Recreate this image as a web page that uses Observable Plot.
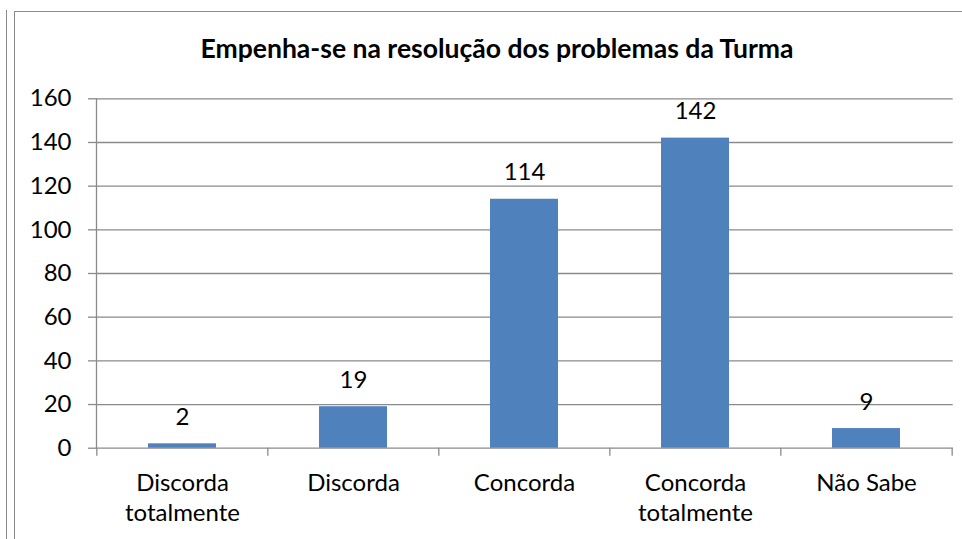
<!DOCTYPE html>
<html>
<head>
<meta charset="utf-8">
<script src="https://cdn.jsdelivr.net/npm/d3@7"></script>
<script src="https://cdn.jsdelivr.net/npm/@observablehq/plot@0.6"></script>
<style>
  html, body { margin: 0; padding: 0; background: #fff; overflow: hidden; }
  #wrap { position: relative; width: 962px; height: 539px; font-family: Lato, sans-serif; color: #000; }
  .vline { position: absolute; width: 1px; background: #8a8a8a; }
  .hline { position: absolute; height: 1px; background: #8a8a8a; }
  #title { position: absolute; left: 0; width: 994px; text-align: center; font-weight: bold; line-height: 1; white-space: nowrap; }
  #chart { position: absolute; left: 0; top: 0; }
</style>
</head>
<body>
<div id="wrap">
  <div class="vline" style="left:6px; top:10px; height:529px;"></div>
  <div class="vline" style="left:14px; top:11px; height:528px;"></div>
  <div class="hline" style="left:14px; top:11px; width:948px;"></div>
  <div id="title"></div>
  <div id="chart"></div>
</div>
<script>
const titleText = "Empenha-se na resolução dos problemas da Turma";
const categories = ["Discorda\ntotalmente", "Discorda", "Concorda", "Concorda\ntotalmente", "Não Sabe"];
const values = [2, 19, 114, 142, 9];
const yTicks = [0, 20, 40, 60, 80, 100, 120, 140, 160];

const data = categories.map((c, i) => ({category: c, value: values[i]}));

const W = 962, H = 539;
const mLeft = 96, mRight = 9.3, mTop = 98.3, mBottom = 91.3;
const step = (W - mLeft - mRight) / categories.length;
const fs = 24;
const lh = 1.27;
const grid = "#8a8a8a";

// Title sized to match the reference width
const ctx = document.createElement("canvas").getContext("2d");
ctx.font = "bold 100px Lato";
const tw = ctx.measureText(titleText).width;
const tfs = 100 * 594 / tw;
const titleEl = document.getElementById("title");
titleEl.textContent = titleText;
titleEl.style.fontSize = tfs + "px";
titleEl.style.top = (58.3 - 0.887 * tfs) + "px";

const chart = Plot.plot({
  width: W,
  height: H,
  marginLeft: mLeft,
  marginRight: mRight,
  marginTop: mTop,
  marginBottom: mBottom,
  style: {fontFamily: "Lato, sans-serif", fontSize: fs + "px", color: "#000", background: "transparent", overflow: "visible"},
  x: {domain: categories, paddingInner: 0.6, paddingOuter: 0.3, label: null},
  y: {domain: [0, 160], label: null},
  marks: [
    Plot.gridY(yTicks, {stroke: grid, strokeOpacity: 1, strokeWidth: 1.3}),
    Plot.frame({anchor: "left", stroke: grid, strokeWidth: 1.3}),
    Plot.ruleX(categories, {x: d => d, y1: 0, y2: 0, insetBottom: -8, dx: -step / 2, stroke: grid, strokeWidth: 1.3}),
    Plot.ruleX(categories.slice(-1), {x: d => d, y1: 0, y2: 0, insetBottom: -8, dx: step / 2, stroke: grid, strokeWidth: 1.3}),
    Plot.axisY(yTicks, {tickSize: 8, tickPadding: 17, stroke: grid, strokeWidth: 1.3, fontSize: fs, fill: "#000", label: null}),
    Plot.axisX({tickSize: 0, tickPadding: 490.5 - 447.7 - 0.71 * lh * fs, lineHeight: lh, fontSize: fs, fill: "#000", label: null}),
    Plot.barY(data, {x: "category", y: "value", fill: "#4F81BD"}),
    Plot.text(data, {x: "category", y: "value", text: d => String(d.value), dy: -19 - 0.32 * fs, fontSize: fs, fill: "#000"})
  ]
});
document.getElementById("chart").appendChild(chart);
</script>
</body>
</html>
